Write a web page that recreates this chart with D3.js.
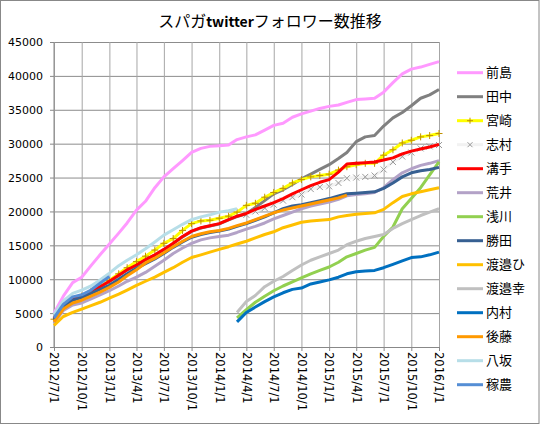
<!DOCTYPE html>
<html>
<head>
<meta charset="utf-8">
<script src="https://cdn.jsdelivr.net/npm/d3@7"></script>
<style>
  body { margin: 0; background: #fff; }
  .axis text { font-family: "DejaVu Sans", sans-serif; font-size: 11px; fill: #000; }
  .legend text { font-family: "Noto Sans CJK JP", sans-serif; font-size: 13px; fill: #000; }
</style>
</head>
<body>
<div class="chart"></div>
<script>
// tick labels on the x axis (every 3 months)
const tickLabels = ["2012/7/1", "2012/10/1", "2013/1/1", "2013/4/1", "2013/7/1", "2013/10/1",
  "2014/1/1", "2014/4/1", "2014/7/1", "2014/10/1", "2015/1/1", "2015/4/1", "2015/7/1",
  "2015/10/1", "2016/1/1"];
const yTicks = [0, 5000, 10000, 15000, 20000, 25000, 30000, 35000, 40000, 45000];

// monthly follower counts, first value at each series' start month
const maejima = [5000, 7500, 9500, 10300, 12000, 13600, 15200, 16800, 18300, 20200, 21500, 23500, 25100,
  26300, 27500, 28700, 29300, 29600, 29700, 29800, 30600, 31000, 31300, 32000, 32700, 33000, 33900,
  34400, 34800, 35200, 35500, 35700, 36100, 36500, 36600, 36700, 37600, 39000, 40300, 41000, 41300,
  41700, 42100];
const tanaka = [4150, 6150, 7050, 7550, 8250, 8850, 9650, 10550, 11350, 12050, 12850, 13550, 14350,
  15250, 16250, 17050, 17550, 17850, 18150, 18750, 19250, 19650, 20600, 21600, 22600, 23200, 24000,
  24800, 25500, 26200, 26900, 27800, 28700, 30300, 31000, 31200, 32600, 33800, 34600, 35600, 36700,
  37200, 38000];
const miyazaki = [4100, 6100, 7000, 7500, 8200, 8900, 9800, 10800, 11700, 12600, 13400, 14300, 15300,
  16000, 17200, 18200, 18600, 18700, 19000, 19300, 19900, 20900, 21200, 22100, 22800, 23400, 24200,
  24700, 25100, 25300, 25500, 26100, 26600, 26900, 27100, 27100, 28300, 29100, 30100, 30500, 31000,
  31200, 31500];
const shimura = [19500, 20000, 20500, 21000, 21600, 22100, 22500, 23300, 23600, 23700, 24200, 24900,
  25000, 25100, 25300, 26200, 27300, 28100, 28700, 29300, 29600, 29800];
const mizote = [4200, 6200, 7100, 7600, 8300, 8900, 9700, 10600, 11400, 12100, 12900, 13600, 14400,
  15300, 16300, 17100, 17600, 17900, 18200, 18800, 19300, 19700, 20300, 20800, 21300, 21900, 22600,
  23200, 23800, 24300, 24700, 25800, 27000, 27100, 27200, 27300, 27600, 27900, 28500, 28900, 29200,
  29500, 29900];
const arai = [3500, 5400, 6200, 6500, 7100, 7700, 8300, 9000, 9700, 10300, 11000, 11900, 12800, 13800,
  14600, 15300, 15800, 16100, 16300, 16500, 16900, 17400, 17800, 18300, 18900, 19400, 19900, 20400,
  20800, 21100, 21400, 21800, 22300, 22500, 22600, 22800, 23500, 24700, 25700, 26300, 26800, 27100,
  27500];
const asakawa = [4300, 5500, 6600, 7500, 8300, 9000, 9600, 10200, 10800, 11300, 11800, 12500, 13300,
  13800, 14300, 14700, 16300, 17700, 20400, 21900, 23500, 25400, 27300];
const katsuta = [4000, 6000, 6900, 7300, 7900, 8500, 9100, 10000, 10800, 11600, 12300, 13000, 13800,
  14700, 15500, 16200, 16600, 16900, 17100, 17400, 17800, 18200, 18700, 19200, 19800, 20400, 20800,
  21000, 21300, 21600, 21900, 22300, 22600, 22700, 22800, 22900, 23400, 24200, 25100, 25700, 26000,
  26200, 26500];
const watanabeHi = [3200, 4500, 5100, 5600, 6100, 6600, 7200, 7800, 8400, 9100, 9700, 10300, 11000,
  11700, 12500, 13200, 13600, 14000, 14400, 14800, 15200, 15600, 16100, 16600, 17000, 17600, 18000,
  18400, 18600, 18700, 18800, 19200, 19400, 19600, 19700, 19800, 20300, 21300, 22200, 22600, 22900,
  23200, 23500];
const watanabeSachi = [5100, 6700, 7600, 8900, 9700, 10400, 11300, 12100, 12800, 13300, 13800, 14300,
  15100, 15600, 16000, 16300, 16600, 17500, 18200, 18800, 19400, 19900, 20400];
const uchimura = [3700, 5100, 5900, 6700, 7400, 8000, 8500, 8700, 9300, 9600, 9900, 10300, 10800,
  11100, 11200, 11300, 11700, 12200, 12700, 13200, 13300, 13600, 14000];
const goto = [3700, 5600, 6500, 6900, 7500, 8100, 8800, 9600, 10500, 11400, 12400, 13100, 13900, 14800,
  15600, 16300, 16700, 17000, 17200, 17500, 17900, 18300, 18800, 19300, 19800, 20200, 20500, 20800,
  21100, 21400, 21700, 22000, 22400];
const yasaka = [4800, 6800, 7900, 8400, 9000, 9900, 10900, 12000, 12800, 13600, 14500, 15500, 16500,
  17300, 18100, 18800, 19200, 19500, 19900, 20100, 20400];
const kanou = [4300, 6300, 7400, 7700, 8400, 9400, 10400];

const series = [
  {name: "前島", start: "2012/7/1", values: maejima, color: "#FF99FF"},
  {name: "田中", start: "2012/7/1", values: tanaka, color: "#808080"},
  {name: "宮崎", start: "2012/7/1", values: miyazaki, color: "#FFFF00", marker: "plus"},
  {name: "志村", start: "2014/4/1", values: shimura, color: "#F2F2F2", marker: "cross"},
  {name: "溝手", start: "2012/7/1", values: mizote, color: "#FF0000"},
  {name: "荒井", start: "2012/7/1", values: arai, color: "#B3A2C7"},
  {name: "浅川", start: "2014/3/1", values: asakawa, color: "#92D050"},
  {name: "勝田", start: "2012/7/1", values: katsuta, color: "#376092"},
  {name: "渡邉ひ", start: "2012/7/1", values: watanabeHi, color: "#FFC000"},
  {name: "渡邉幸", start: "2014/3/1", values: watanabeSachi, color: "#C0C0C0"},
  {name: "内村", start: "2014/3/1", values: uchimura, color: "#0070C0"},
  {name: "後藤", start: "2012/7/1", values: goto, color: "#FF9900"},
  {name: "八坂", start: "2012/7/1", values: yasaka, color: "#B7DEE8"},
  {name: "稼農", start: "2012/7/1", values: kanou, color: "#558ED5"}
];

const W = 540, H = 426;
const plot = {left: 54, right: 439, top: 42, bottom: 347};
const parseDate = d3.timeParse("%Y/%m/%d");

const svg = d3.select(".chart").append("svg")
  .attr("width", W)
  .attr("height", H);

svg.append("rect")
  .attr("x", 0.5).attr("y", 0.5)
  .attr("width", W - 1.5).attr("height", H - 3)
  .attr("fill", "#fff")
  .attr("stroke", "#888");

const tickDates = tickLabels.map(parseDate);

const xScale = d3.scaleTime()
  .domain([tickDates[0], tickDates[tickDates.length - 1]])
  .range([plot.left, plot.right]);

const yScale = d3.scaleLinear()
  .domain([0, 45000])
  .range([plot.bottom, plot.top]);

// y axis + horizontal gridlines
const yAxisGroup = svg.append("g")
  .attr("class", "axis y-axis")
  .attr("transform", `translate(${plot.left},0)`)
  .call(d3.axisLeft(yScale).tickValues(yTicks).tickSize(4).tickPadding(7).tickFormat(d3.format("d")));

yAxisGroup.selectAll(".tick line")
  .attr("stroke", "#888")
  .clone()
  .attr("x2", plot.right - plot.left)
  .attr("stroke", "#8c8c8c");
yAxisGroup.select(".domain").attr("stroke", "#888");
yAxisGroup.selectAll(".tick text").attr("dy", "0.36em");

// x axis + vertical gridlines
const xAxisGroup = svg.append("g")
  .attr("class", "axis x-axis")
  .attr("transform", `translate(0,${plot.bottom})`)
  .call(d3.axisBottom(xScale).tickValues(tickDates).tickSize(4)
    .tickFormat((d, i) => tickLabels[i]));

xAxisGroup.selectAll(".tick line")
  .attr("stroke", "#888")
  .clone()
  .attr("y2", -(plot.bottom - plot.top))
  .attr("stroke", "#a6a6a6");
xAxisGroup.select(".domain").attr("stroke", "#888");
xAxisGroup.selectAll(".tick text")
  .attr("transform", "rotate(90)")
  .attr("text-anchor", "start")
  .attr("x", 5)
  .attr("y", 0)
  .attr("dy", "0.36em")
  .style("font-size", "11.5px");

// redraw the left axis line over the gridlines
svg.append("line")
  .attr("x1", plot.left).attr("x2", plot.left)
  .attr("y1", plot.top).attr("y2", plot.bottom)
  .attr("stroke", "#888");

const line = d3.line()
  .x(d => xScale(d.date))
  .y(d => yScale(d.value));

function points(s) {
  const start = parseDate(s.start);
  return s.values.map((v, i) => ({date: d3.timeMonth.offset(start, i), value: v}));
}

const lines = svg.append("g");

series.forEach(s => {
  const pts = points(s);
  lines.append("path")
    .datum(pts)
    .attr("fill", "none")
    .attr("stroke", s.color)
    .attr("stroke-width", 3)
    .attr("stroke-linejoin", "round")
    .attr("d", line);

  if (s.marker) {
    lines.append("g")
      .selectAll("path")
      .data(pts)
      .enter()
      .append("path")
      .attr("transform", d => `translate(${xScale(d.date)},${yScale(d.value)})`)
      .attr("d", s.marker === "plus" ? "M-3.5,0H3.5M0,-3.5V3.5" : "M-3,-3L3,3M-3,3L3,-3")
      .attr("stroke", s.marker === "plus" ? "#C09000" : "#999")
      .attr("stroke-width", 1)
      .attr("fill", "none");
  }
});

// title
const title = svg.append("text")
  .attr("x", 270)
  .attr("y", 27)
  .attr("text-anchor", "middle")
  .style("font-family", "'Noto Sans CJK JP', sans-serif")
  .style("font-size", "16px")
  .attr("fill", "#000");
title.append("tspan").text("スパガ");
title.append("tspan").text("twitter").style("font-weight", "bold").style("font-size", "14px");
title.append("tspan").text("フォロワー数推移");

// legend
const legend = svg.append("g").attr("class", "legend");
series.forEach((s, i) => {
  const ly = 72.7 + i * 24;
  const row = legend.append("g").attr("transform", `translate(457,${ly})`);
  row.append("line")
    .attr("x1", 0).attr("x2", 26)
    .attr("stroke", s.color)
    .attr("stroke-width", 3);
  if (s.marker) {
    row.append("path")
      .attr("transform", "translate(13,0)")
      .attr("d", s.marker === "plus" ? "M-3,0H3M0,-3V3" : "M-2.5,-2.5L2.5,2.5M-2.5,2.5L2.5,-2.5")
      .attr("stroke", s.marker === "plus" ? "#C09000" : "#999")
      .attr("stroke-width", 1);
  }
  row.append("text")
    .attr("x", 29)
    .attr("y", 0)
    .attr("dy", "0.36em")
    .text(s.name);
});
</script>
</body>
</html>
